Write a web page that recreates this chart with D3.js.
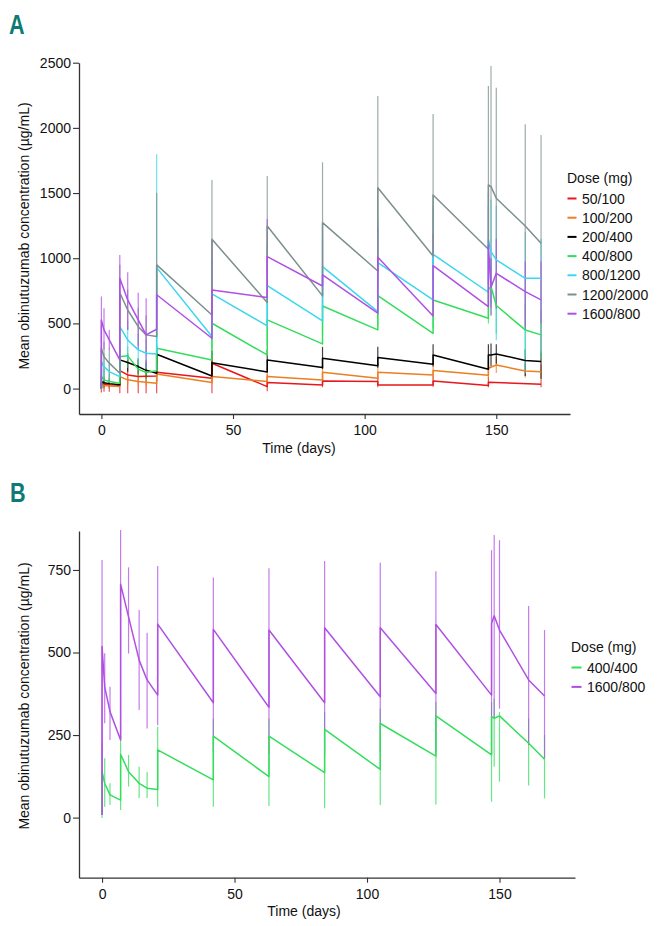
<!DOCTYPE html>
<html>
<head>
<meta charset="utf-8">
<script src="https://cdn.jsdelivr.net/npm/d3@7"></script>
<style>
  html, body { margin: 0; padding: 0; background: #fff; }
  svg { display: block; }
  text { font-family: "Liberation Sans", Arial, Helvetica, sans-serif; }
</style>
</head>
<body>
<svg id="chart" width="662" height="926"></svg>
<script>
// ---------------- DATA ----------------
// Sampling days (duplicated days = pre-dose trough, then post-dose peak)
const days = [0,0,1,3,7,7,10,14,17,21,21,42,42,63,63,84,84,105,105,126,126,147,147,148,150,161,167];

// Panel A: dose groups
const dosesA = ["50/100","100/200","200/400","400/800","800/1200","1200/2000","1600/800"];

const meanA_50_100   = [0,41,35,30,25,138,105,92,95,97,125,79,194,15,46,28,59,54,28,28,59,23,49,null,null,null,33];
const hiA_50_100     = [null,120,90,80,null,250,230,220,220,null,300,null,290,null,110,null,100,null,90,null,100,null,90,null,null,null,70];
const loA_50_100     = [null,-30,-25,-25,null,-35,-35,-35,-35,null,-35,null,-36,null,-20,null,10,null,10,null,15,null,10,null,null,null,10];

const meanA_100_200  = [0,28,24,20,15,92,67,54,48,41,112,46,92,54,92,66,125,79,125,105,138,102,156,null,181,135,130];
const hiA_100_200    = [null,60,50,45,null,160,110,90,80,null,170,null,150,null,150,null,180,null,190,null,200,null,220,null,240,190,185];
const loA_100_200    = [null,0,0,0,null,30,30,25,20,null,50,null,40,null,40,null,60,null,60,null,70,null,80,null,120,85,75];

const meanA_200_400  = [0,55,45,38,30,220,200,169,140,118,263,97,199,128,220,161,233,176,238,187,258,148,258,258,266,215,207];
const hiA_200_400    = [null,100,80,60,null,300,270,230,200,null,330,null,290,null,300,null,320,null,320,null,340,null,340,345,340,300,290];
const loA_200_400    = [null,10,10,10,null,140,130,110,80,null,190,null,110,null,140,null,150,null,160,null,170,null,150,170,190,97,72];

const meanA_400_800  = [0,92,67,55,41,245,251,149,123,136,310,220,501,258,527,343,634,450,713,424,680,539,760,782,637,450,412];
const hiA_400_800    = [null,220,150,110,null,330,320,230,200,null,430,null,700,null,720,null,850,null,950,null,900,null,1000,1000,850,650,600];
const loA_400_800    = [null,-10,10,10,null,150,160,80,60,null,200,null,300,null,330,null,420,null,480,null,460,null,500,560,420,250,230];

const meanA_800_1200 = [0,207,169,130,92,475,373,297,271,265,928,400,726,481,790,519,936,590,966,680,1030,739,1145,1051,987,846,846];
const hiA_800_1200   = [null,330,270,200,null,700,520,420,380,null,1797,null,1000,null,1100,null,1250,null,1300,null,1400,null,1500,1450,1400,1200,1150];
const loA_800_1200   = [null,80,70,60,null,250,220,180,160,null,60,null,450,null,480,null,620,null,630,null,660,null,731,650,370,118,271];

const meanA_1200_2000= [0,310,245,195,118,735,603,475,412,399,949,565,1145,660,1247,711,1273,902,1541,1017,1485,1069,1562,1549,1460,1247,1115];
const hiA_1200_2000  = [null,480,360,310,null,950,760,620,560,null,1500,null,1600,null,1631,null,1736,null,2244,null,2106,null,2321,2474,2308,2027,1945];
const loA_1200_2000  = [null,40,60,0,null,500,450,330,260,null,400,null,690,null,860,null,810,null,840,null,860,null,800,620,610,470,290];

const meanA_1600_800 = [0,527,450,373,220,846,680,527,412,455,720,386,757,698,1012,787,872,578,1007,557,943,629,1100,777,884,744,680];
const hiA_1600_800   = [null,706,616,450,null,1025,892,736,693,null,900,null,1140,null,1300,null,1150,null,1240,null,1190,null,1396,1000,1150,974,974];
const loA_1600_800   = [null,350,300,300,null,600,450,300,160,null,540,null,373,null,720,null,600,null,770,null,700,null,800,560,620,450,500];

// Panel B: dose groups
const dosesB = ["400/400","1600/800"];

const meanB_400_400  = [8,139,104,69,53,192,139,104,89,85,205,114,247,124,247,136,267,146,285,186,308,190,306,301,308,225,177];
const hiB_400_400    = [null,226,180,104,null,250,190,154,138,null,275,null,300,null,300,null,320,null,330,null,350,null,350,360,320,300,250];
const loB_400_400    = [null,-1,33,38,null,23,94,59,59,null,33,null,33,null,35,null,28,null,38,null,40,null,48,154,109,97,58];

const meanB_1600_800 = [8,518,396,321,235,707,608,477,417,371,586,348,570,334,568,348,575,366,575,376,585,371,588,611,568,417,368];
const hiB_1600_800   = [null,780,498,396,null,871,758,629,560,null,762,null,727,null,755,null,777,null,772,null,746,null,810,856,840,641,568];
const loB_1600_800   = [null,100,286,235,null,240,497,326,270,null,280,null,200,null,190,null,190,null,200,null,200,null,190,300,330,220,180];

// Axis ticks
const xTicks = [0,50,100,150];
const yTicksA = [0,500,1000,1500,2000,2500];
const yTicksB = [0,250,500,750];

// ---------------- STYLE ----------------
const colorsA = ["#e8171c","#ec7f22","#000000","#34de5c","#3cd6ee","#7d8f8f","#b04fe4"];
const colorsB = ["#34de5c","#b04fe4"];
const axisColor = "#333";
const yLabel = "Mean obinutuzumab concentration (\u00b5g/mL)";

const seriesA = [
  {name: dosesA[0], mean: meanA_50_100,    hi: hiA_50_100,    lo: loA_50_100},
  {name: dosesA[1], mean: meanA_100_200,   hi: hiA_100_200,   lo: loA_100_200},
  {name: dosesA[2], mean: meanA_200_400,   hi: hiA_200_400,   lo: loA_200_400},
  {name: dosesA[3], mean: meanA_400_800,   hi: hiA_400_800,   lo: loA_400_800},
  {name: dosesA[4], mean: meanA_800_1200,  hi: hiA_800_1200,  lo: loA_800_1200},
  {name: dosesA[5], mean: meanA_1200_2000, hi: hiA_1200_2000, lo: loA_1200_2000},
  {name: dosesA[6], mean: meanA_1600_800,  hi: hiA_1600_800,  lo: loA_1600_800}
].map((s,i) => ({...s, color: colorsA[i]}));

const seriesB = [
  {name: dosesB[0], mean: meanB_400_400,  hi: hiB_400_400,  lo: loB_400_400},
  {name: dosesB[1], mean: meanB_1600_800, hi: hiB_1600_800, lo: loB_1600_800}
].map((s,i) => ({...s, color: colorsB[i]}));

const svg = d3.select("#chart");

function panel(cfg) {
  const g = svg.append("g");
  const x = d3.scaleLinear().domain(cfg.xDomain).range(cfg.xRange);
  const y = d3.scaleLinear().domain(cfg.yDomain).range(cfg.yRange);

  // error bars
  cfg.series.forEach(s => {
    const pts = days.map((d,i) => ({d, hi: s.hi[i], lo: s.lo[i]})).filter(p => p.hi != null && p.lo != null);
    g.append("g").selectAll("line").data(pts).join("line")
      .attr("x1", p => x(p.d)).attr("x2", p => x(p.d))
      .attr("y1", p => y(p.hi)).attr("y2", p => y(p.lo))
      .attr("stroke", s.color).attr("stroke-width", 1.2).attr("stroke-opacity", 0.75);
  });

  // mean lines
  const line = d3.line().x(p => x(p.d)).y(p => y(p.v));
  cfg.series.forEach(s => {
    const pts = days.map((d,i) => ({d, v: s.mean[i]})).filter(p => p.v != null);
    g.append("path").datum(pts).attr("d", line)
      .attr("fill", "none").attr("stroke", s.color).attr("stroke-width", 1.5)
      .attr("stroke-linejoin", "round");
  });

  // axes
  const fmt = d3.format("d");
  const xAxis = g.append("g").attr("transform", `translate(0,${cfg.yRange[0]})`)
    .call(d3.axisBottom(x).tickValues(xTicks).tickFormat(fmt).tickSize(5).tickSizeOuter(0).tickPadding(6));
  const yAxis = g.append("g").attr("transform", `translate(${cfg.xRange[0]},0)`)
    .call(d3.axisLeft(y).tickValues(cfg.yTicks).tickFormat(fmt).tickSize(6).tickSizeOuter(0).tickPadding(2));
  [xAxis, yAxis].forEach(a => {
    a.select(".domain").attr("stroke", axisColor).attr("stroke-width", 1.3);
    a.selectAll(".tick line").attr("stroke", axisColor).attr("stroke-width", 1.1);
    a.selectAll(".tick text").attr("fill", "#111").style("font-size", "14px")
      .style("font-family", '"Liberation Sans", Arial, sans-serif');
  });

  // axis titles
  g.append("text").attr("x", cfg.xTitle[0]).attr("y", cfg.xTitle[1])
    .attr("text-anchor", "middle").attr("font-size", 14).attr("fill", "#111").text("Time (days)");
  g.append("text").attr("transform", `translate(${cfg.yTitle[0]},${cfg.yTitle[1]}) rotate(-90)`)
    .attr("text-anchor", "middle").attr("font-size", 14).attr("fill", "#111").text(yLabel);

  // panel letter (condensed bold look)
  g.append("text")
    .attr("transform", `translate(${cfg.letterPos[0]},${cfg.letterPos[1]}) scale(0.8,1)`)
    .attr("font-family", '"Liberation Sans", Arial, sans-serif')
    .attr("font-weight", "bold").attr("font-size", 27).attr("fill", "#0d7a75").text(cfg.letter);

  // legend
  const lg = g.append("g").attr("transform", `translate(${cfg.legend[0]},${cfg.legend[1]})`);
  lg.append("text").attr("x", 0).attr("y", 0).attr("font-size", 14).attr("fill", "#111").text("Dose (mg)");
  cfg.series.forEach((s,i) => {
    const yy = 21 + i * cfg.legendStep;
    lg.append("line").attr("x1", 0.5).attr("x2", cfg.swatch).attr("y1", yy - 5).attr("y2", yy - 5)
      .attr("stroke", s.color).attr("stroke-width", 2);
    lg.append("text").attr("x", cfg.swatch + 5.5).attr("y", yy).attr("font-size", 14).attr("fill", "#111").text(s.name);
  });
}

panel({
  series: seriesA, letter: "A", letterPos: [9, 34],
  xDomain: [-8.5, 178], xRange: [79, 570],
  yDomain: [-195, 2500], yRange: [414, 62.7], yTicks: yTicksA,
  xTitle: [299, 453], yTitle: [29, 236],
  legend: [567, 182.5], legendStep: 19.2, swatch: 9.5
});

panel({
  series: seriesB, letter: "B", letterPos: [10, 502],
  xDomain: [-8.7, 178.5], xRange: [79, 575],
  yDomain: [-182, 868], yRange: [877.7, 531], yTicks: yTicksB,
  xTitle: [304, 916], yTitle: [29, 696],
  legend: [571, 651.5], legendStep: 19.4, swatch: 10.5
});
</script>
</body>
</html>
